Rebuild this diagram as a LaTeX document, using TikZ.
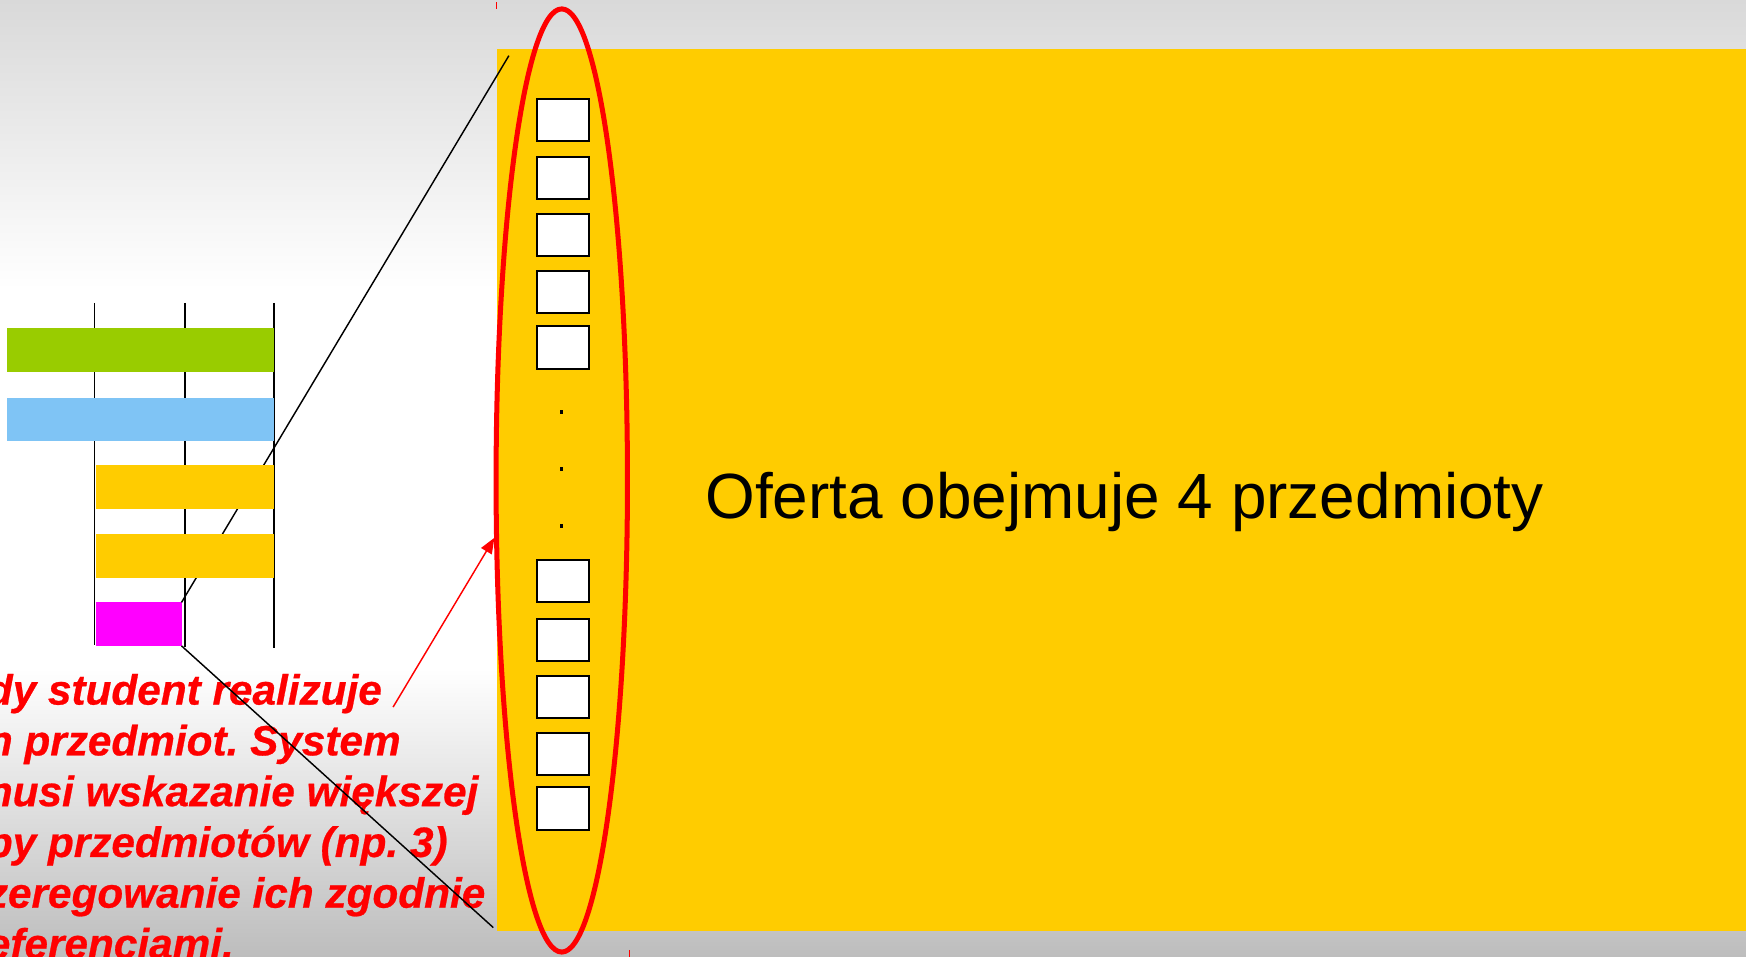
\documentclass[tikz,border=0pt]{standalone}
\usepackage{fontspec}
\setmainfont{Liberation Sans}
\newfontfamily\notefont[FakeBold=0.6]{Liberation Sans}
\usetikzlibrary{shapes.geometric,arrows.meta}
\definecolor{offeryellow}{HTML}{FFCC00}
\definecolor{bargreen}{HTML}{99CC00}
\definecolor{barblue}{HTML}{7FC4F5}
\definecolor{barpink}{HTML}{FF00FF}
\definecolor{topgray}{HTML}{D9D9D9}
\definecolor{bottomgray}{HTML}{BDBDBD}
\begin{document}
\begin{tikzpicture}[x=1pt,y=-1pt,
 bar/.style={anchor=north west,inner sep=0pt,outer sep=0pt,minimum height=39pt},
 slot/.style={draw=black,line width=1.8pt,fill=white,inner sep=0pt,minimum width=46pt,minimum height=38pt},
 rule/.style={black,line width=1.5pt}]
 \useasboundingbox (0,0) rectangle (1568,859);
 \clip (0,0) rectangle (1568,859);
 \shade[top color=topgray,bottom color=white] (0,0) rectangle (1568,260);
 \fill[white] (0,259) rectangle (1568,601);
 \shade[top color=white,bottom color=bottomgray] (0,600) rectangle (1568,859);
 \node[fill=offeryellow,anchor=north west,inner sep=0pt,outer sep=0pt,minimum width=1130pt,minimum height=792pt] (offer) at (446,44) {};
 \coordinate (zoomtop) at (457,50);
 \coordinate (zoombot) at (443,833);
 \draw[rule] (85,272) -- (85,579);
 \draw[rule] (166,272) -- (166,581);
 \draw[rule] (246,272) -- (246,582);
 \node[bar,fill=barpink,minimum width=77pt] (pink) at (86,541) {};
 \draw[line width=1.3pt] (pink.north east) -- (zoomtop);
 \node[bar,fill=bargreen,minimum width=240pt] (green) at (6,295) {};
 \node[bar,fill=barblue,minimum width=240pt] (blue) at (6,357) {};
 \node[bar,fill=offeryellow,minimum width=160pt] (yellowA) at (86,418) {};
 \node[bar,fill=offeryellow,minimum width=160pt] (yellowB) at (86,480) {};
 \node[slot] (s1) at (505.5,107.5) {};
 \node[slot] (s2) at (505.5,160) {};
 \node[slot] (s3) at (505.5,211) {};
 \node[slot] (s4) at (505.5,262.5) {};
 \node[slot] (s5) at (505.5,312) {};
 \fill (502.5,368.5) rectangle (506,372);
 \fill (502.5,419.5) rectangle (506,423);
 \fill (502.5,470.5) rectangle (506,474);
 \node[slot] (s6) at (505.5,522) {};
 \node[slot] (s7) at (505.5,574.5) {};
 \node[slot] (s8) at (505.5,626) {};
 \node[slot] (s9) at (505.5,677) {};
 \node[slot] (s10) at (505.5,726) {};
 \node[ellipse,draw=red,line width=4.5pt,inner sep=0pt,minimum width=118pt,minimum height=847pt] (sel) at (504.5,431.5) {};
 \node[font=\fontsize{57.4}{68}\selectfont] (offertext) at (1010,451) {Oferta obejmuje 4 przedmioty};
 \node[anchor=north west,inner sep=0pt,align=left,text=red,font=\notefont\fontsize{38}{45.6}\selectfont\bfseries\itshape\frenchspacing] (note) at (-12,605) {dy student realizuje\\n przedmiot. System\\nusi wskazanie większej\\py przedmiotów (np. 3)\\zeregowanie ich zgodnie\\eferencjami.};
 \draw[line width=1.3pt] (pink.south east) -- (zoombot);
 \coordinate (from) at (353,635);
 \coordinate (tip) at (444,483);
 \draw[red,line width=1.3pt,-{Triangle[length=14pt,width=11pt]}] (from) -- (tip);
 \draw[red,line width=1pt] (446,2) -- (446,8);
 \draw[red,line width=1pt] (565,853) -- (565,859);
\end{tikzpicture}
\end{document}
